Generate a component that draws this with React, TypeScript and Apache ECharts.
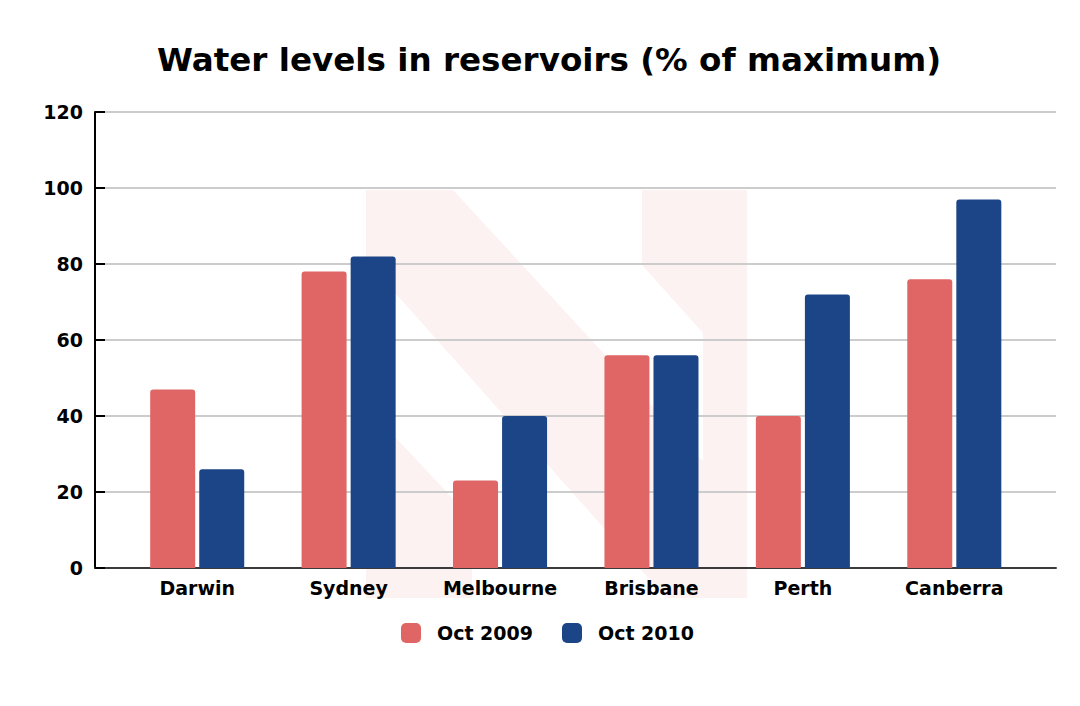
import React, { useEffect, useRef } from 'react';
import * as echarts from 'echarts';

const categories = ['Darwin', 'Sydney', 'Melbourne', 'Brisbane', 'Perth', 'Canberra'];
const oct2009 = [47, 78, 23, 56, 40, 76];
const oct2010 = [26, 82, 40, 56, 72, 97];
const seriesNames = ['Oct 2009', 'Oct 2010'];
const titleText = 'Water levels in reservoirs (% of maximum)';
const yMin = 0;
const yMax = 120;
const yInterval = 20;

const FONT = '"DejaVu Sans", Verdana, sans-serif';
const RED = '#e06666';
const BLUE = '#1c4587';
const WM = '#fcf2f2';

export default function App() {
  const ref = useRef<HTMLDivElement>(null);
  useEffect(() => {
    document.body.style.margin = '0';
    const chart = echarts.init(ref.current!, null, { renderer: 'svg' });
    const option: any = {
      animation: false,
      backgroundColor: '#ffffff',
      graphic: [
        {
          type: 'polygon',
          z: -10,
          silent: true,
          shape: { points: [[366, 406], [472, 519], [472, 598], [366, 598]] },
          style: { fill: WM },
        },
        {
          type: 'polygon',
          z: -10,
          silent: true,
          shape: {
            points: [
              [366, 190], [453, 190], [703, 461], [703, 333], [642, 265], [642, 190],
              [747, 190], [747, 598], [666, 598], [366, 260],
            ],
          },
          style: { fill: WM },
        },
        {
          type: 'text',
          z: 10,
          x: 549,
          y: 60,
          silent: true,
          style: {
            text: titleText,
            fontFamily: FONT,
            fontSize: 32.6,
            fontWeight: 'bold',
            fill: '#000',
            align: 'center',
            verticalAlign: 'middle',
          },
        },
      ],
      legend: {
        data: seriesNames,
        left: 396,
        top: 618,
        itemWidth: 20,
        itemHeight: 20,
        itemGap: 29,
        icon: 'roundRect',
        textStyle: { fontFamily: FONT, fontSize: 19, fontWeight: 'bold', color: '#000', padding: [0, 0, 0, 11] },
      },
      grid: [
        { left: 95, right: 24, top: 112, bottom: 138 },
        { left: 121.5, right: 50, top: 112, bottom: 138 },
      ],
      xAxis: [
        {
          gridIndex: 0,
          type: 'value',
          min: 0,
          max: 1,
          z: 3,
          axisLine: { show: true, lineStyle: { color: '#3a3a3a', width: 2 } },
          axisTick: { show: false },
          axisLabel: { show: false },
          splitLine: { show: false },
        },
        {
          gridIndex: 1,
          type: 'category',
          data: categories,
          axisLine: { show: false },
          axisTick: { show: false },
          axisLabel: { fontFamily: FONT, fontSize: 19, fontWeight: 'bold', color: '#000', margin: 10 },
        },
      ],
      yAxis: [
        {
          gridIndex: 0,
          type: 'value',
          min: yMin,
          max: yMax,
          interval: yInterval,
          z: 3,
          axisLine: { show: true, lineStyle: { color: '#000', width: 2 } },
          axisTick: { show: true, inside: true, length: 10, lineStyle: { color: '#000', width: 2 } },
          axisLabel: { fontFamily: FONT, fontSize: 19, fontWeight: 'bold', color: '#000', margin: 12 },
          splitLine: { show: true, lineStyle: { color: '#cccccc', width: 2 } },
        },
        {
          gridIndex: 1,
          type: 'value',
          min: yMin,
          max: yMax,
          interval: yInterval,
          show: false,
          splitLine: { show: false },
        },
      ],
      series: [
        {
          name: seriesNames[0],
          type: 'bar',
          xAxisIndex: 1,
          yAxisIndex: 1,
          data: oct2009,
          barWidth: 45,
          barGap: '9%',
          z: 4,
          itemStyle: { color: RED, borderRadius: [3, 3, 0, 0] },
        },
        {
          name: seriesNames[1],
          type: 'bar',
          xAxisIndex: 1,
          yAxisIndex: 1,
          data: oct2010,
          barWidth: 45,
          barGap: '9%',
          z: 4,
          itemStyle: { color: BLUE, borderRadius: [3, 3, 0, 0] },
        },
      ],
    };
    chart.setOption(option);
    return () => chart.dispose();
  }, []);
  return <div ref={ref} style={{ width: 1080, height: 706 }} />;
}
